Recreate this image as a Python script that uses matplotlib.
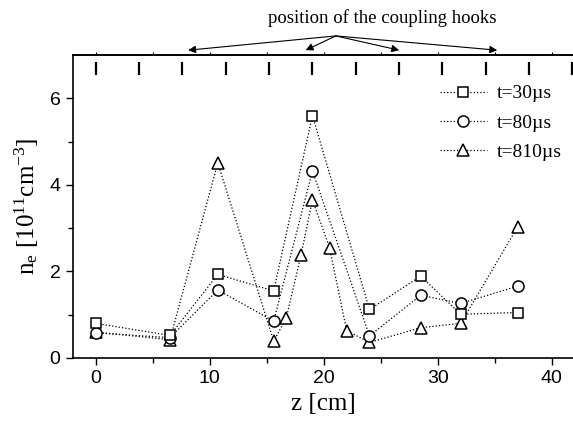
import numpy as np
import matplotlib
matplotlib.use("Agg")
import matplotlib.pyplot as plt

plt.rcParams['font.family'] = ['Liberation Sans', 'DejaVu Sans']
plt.rcParams['mathtext.fontset'] = 'custom'
plt.rcParams['mathtext.rm'] = 'Liberation Serif'
plt.rcParams['mathtext.it'] = 'Liberation Serif:italic'

# data
z_30 = [0, 6.5, 10.7, 15.6, 19.0, 24.0, 28.5, 32.0, 37.0]
ne_30 = [0.80, 0.52, 1.93, 1.55, 5.60, 1.12, 1.89, 1.01, 1.05]

z_80 = [0, 6.5, 10.7, 15.6, 19.0, 24.0, 28.5, 32.0, 37.0]
ne_80 = [0.58, 0.47, 1.57, 0.85, 4.32, 0.51, 1.45, 1.26, 1.66]

z_810 = [0, 6.5, 10.7, 15.6, 16.7, 18.0, 19.0, 20.5, 22.0, 24.0, 28.5, 32.0, 37.0]
ne_810 = [0.60, 0.42, 4.51, 0.39, 0.92, 2.38, 3.65, 2.55, 0.63, 0.36, 0.70, 0.80, 3.03]

hook_marks = [0, 3.8, 7.6, 11.4, 15.2, 19.0, 22.8, 26.6, 30.4, 34.2, 38.0, 41.8]
hook_arrows = [8.1, 18.4, 26.6, 35.2]

fig = plt.figure(figsize=(5.73, 4.28), dpi=100)
ax = fig.add_axes([0.1274, 0.1636, 0.8726, 0.708])

ax.plot(z_30, ne_30, ':', color='k', lw=0.9, marker='s', ms=7, mfc='white',
        mec='k', mew=1.1, label='t=30\u00b5s', zorder=4)
ax.plot(z_80, ne_80, ':', color='k', lw=0.9, marker='o', ms=8, mfc='white',
        mec='k', mew=1.1, label='t=80\u00b5s', zorder=3)
ax.plot(z_810, ne_810, ':', color='k', lw=0.9, marker='^', ms=9, mfc='white',
        mec='k', mew=1.1, label='t=810\u00b5s', zorder=2)

# hook markers along the top
ax.vlines(hook_marks, 6.54, 6.84, color='k', lw=1.6, clip_on=False)

for zt in hook_arrows:
    ax.annotate('', xy=(zt, 7.11), xytext=(21.05, 7.44), annotation_clip=False,
                arrowprops=dict(arrowstyle='-|>', lw=0.8, color='k',
                                shrinkA=0, shrinkB=0, mutation_scale=11))
ax.text(25.1, 7.85, 'position of the coupling hooks', family='Liberation Serif',
        fontsize=13.5, ha='center', va='center')

ax.set_xlim(-2, 41.85)
ax.set_ylim(0, 7)
ax.set_xticks([0, 10, 20, 30, 40])
ax.set_xticks([5, 15, 25, 35], minor=True)
ax.set_yticks([0, 2, 4, 6])
ax.set_yticks([1, 3, 5], minor=True)
ax.tick_params(which='major', direction='out', length=5, width=1, labelsize=14, pad=4)
ax.tick_params(which='minor', direction='out', length=3.5, width=1)
ax.spines['right'].set_visible(False)
for s in ['left', 'bottom', 'top']:
    ax.spines[s].set_linewidth(1.2)

top = ax.secondary_xaxis('top')
top.set_xticks([0, 5, 10, 15, 20, 25, 30, 35, 40])
top.tick_params(direction='out', length=2, width=0.8, labeltop=False)
top.spines['top'].set_linewidth(1.2)

ax.set_xlabel('z [cm]', family='Liberation Serif', fontsize=18, labelpad=4)
ax.set_ylabel(r'n$_{\rm e}$ [10$^{11}$cm$^{-3}$]', family='Liberation Serif',
              fontsize=18, labelpad=6)

ax.legend(loc='upper right', bbox_to_anchor=(1.0, 0.94), frameon=False,
          prop={'family': 'Liberation Serif', 'size': 14}, handlelength=2.4,
          handletextpad=0.5, labelspacing=0.6, borderaxespad=0.2)

fig.savefig('out.png', dpi=100)
